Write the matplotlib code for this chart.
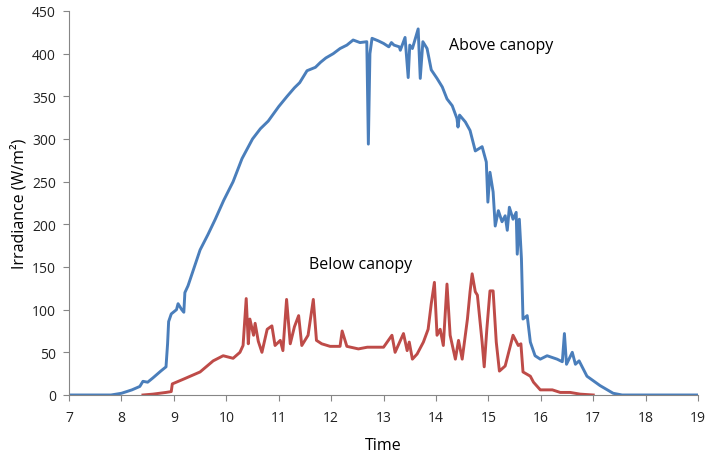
import matplotlib
matplotlib.use("Agg")
import matplotlib.pyplot as plt

# above canopy (blue) – time in hours, irradiance W/m2
above_t = [7.0, 7.5, 7.8, 8.0, 8.2, 8.35, 8.41, 8.5, 8.6, 8.75, 8.85, 8.88, 8.9,
           8.95, 9.05, 9.08, 9.15, 9.19, 9.21, 9.27, 9.5, 9.65, 9.79, 9.95, 10.13,
           10.3, 10.5, 10.65, 10.8, 11.0, 11.16, 11.3, 11.4, 11.54, 11.7, 11.8,
           11.9, 12.04, 12.17, 12.3, 12.42, 12.55, 12.68,
           12.71, 12.74, 12.78, 12.9, 13.0, 13.1, 13.15, 13.2, 13.3, 13.32, 13.41,
           13.47, 13.5, 13.55, 13.66, 13.7, 13.75, 13.83, 13.91, 14.02, 14.12,
           14.21, 14.31, 14.4, 14.42, 14.45, 14.56, 14.65, 14.75, 14.88, 14.96,
           14.99, 15.03, 15.09, 15.13, 15.19, 15.26, 15.32, 15.36, 15.4, 15.47,
           15.53, 15.55, 15.59, 15.63, 15.66, 15.74, 15.8, 15.89, 15.99, 16.12,
           16.31, 16.41, 16.45, 16.49, 16.6, 16.66, 16.73, 16.88, 17.13, 17.38,
           17.55, 18.0, 19.0]
above_v = [0, 0, 0, 2, 6, 10, 16, 15, 20, 28, 33, 60, 86,
           95, 100, 107, 100, 97, 120, 128, 170, 188, 206, 228, 250,
           277, 300, 312, 321, 338, 350, 360, 366, 380, 384, 390,
           395, 400, 406, 410, 416, 413, 414,
           294, 400, 418, 415, 412, 408, 413, 410, 408, 404, 419,
           372, 410, 406, 429, 371, 414, 406, 381, 371, 361,
           347, 339, 324, 314, 328, 320, 310, 286, 291, 273,
           226, 261, 238, 198, 216, 203, 210, 193, 220, 206,
           214, 165, 206, 160, 89, 93, 62, 46, 42, 46,
           42, 39, 72, 36, 50, 36, 40, 22, 11, 2,
           0, 0, 0]

# below canopy (red)
below_t = [8.41, 8.6, 8.85, 8.95, 8.97, 9.2, 9.5, 9.75, 9.94, 10.13, 10.26,
           10.32, 10.38, 10.42, 10.45, 10.52, 10.55, 10.61, 10.68, 10.78, 10.87,
           10.93, 11.03, 11.08, 11.15, 11.22, 11.3, 11.38, 11.44, 11.56, 11.66,
           11.72, 11.82, 11.98, 12.17, 12.21, 12.3, 12.52, 12.69, 13.0, 13.16,
           13.22, 13.38, 13.45, 13.49, 13.55, 13.64, 13.76, 13.85, 13.91, 13.97,
           14.02, 14.08, 14.14, 14.21, 14.27, 14.37, 14.43, 14.5, 14.6, 14.65,
           14.69, 14.75, 14.79, 14.88, 14.92, 14.97, 15.03, 15.09, 15.15, 15.21,
           15.32, 15.42, 15.47, 15.57, 15.62, 15.66, 15.8, 15.86, 15.99, 16.22,
           16.37, 16.56, 16.75, 17.0]
below_v = [0, 1, 3, 4, 13, 19, 27, 40, 46, 43, 50,
           58, 113, 60, 89, 70, 84, 63, 50, 77, 81,
           58, 64, 52, 112, 60, 80, 93, 58, 70, 112,
           64, 60, 57, 57, 75, 57, 54, 56, 56, 70,
           50, 72, 52, 62, 42, 48, 62, 77, 107, 132,
           70, 77, 58, 130, 70, 42, 64, 42, 89, 121,
           142, 121, 117, 62, 33, 77, 122, 122, 62, 28,
           34, 58, 70, 58, 60, 27, 22, 15, 6, 6,
           3, 3, 1, 0]

x_ticks = list(range(7, 20))
y_ticks = list(range(0, 451, 50))

plt.rcParams['font.family'] = ['Open Sans', 'DejaVu Sans']

fig = plt.figure(figsize=(7.08, 4.56), dpi=100)
ax = fig.add_axes([0.0975, 0.1316, 0.8885, 0.8421])

ax.plot(above_t, above_v, color='#4A7EBB', lw=2.1, solid_joinstyle='round')
ax.plot(below_t, below_v, color='#BE4B48', lw=2.1, solid_joinstyle='round')

ax.set_xlim(7, 19)
ax.set_ylim(0, 450)
ax.set_xticks(x_ticks)
ax.set_yticks(y_ticks)
ax.tick_params(labelsize=10, colors='#868686', labelcolor='#222222', length=4, width=0.8)
ax.tick_params(axis='x', pad=6.5)
ax.tick_params(axis='y', pad=5.5)
for s in ['top', 'right']:
    ax.spines[s].set_visible(False)
for s in ['left', 'bottom']:
    ax.spines[s].set_color('#868686')

ax.set_xlabel('Time', fontsize=11.5, labelpad=9)
ax.set_ylabel('Irradiance (W/m²)', fontsize=11.5, labelpad=3)

ax.text(14.25, 410, 'Above canopy', fontsize=11.5, va='center')
ax.text(11.58, 154, 'Below canopy', fontsize=11.5, va='center')

fig.savefig('out.png', dpi=100)
